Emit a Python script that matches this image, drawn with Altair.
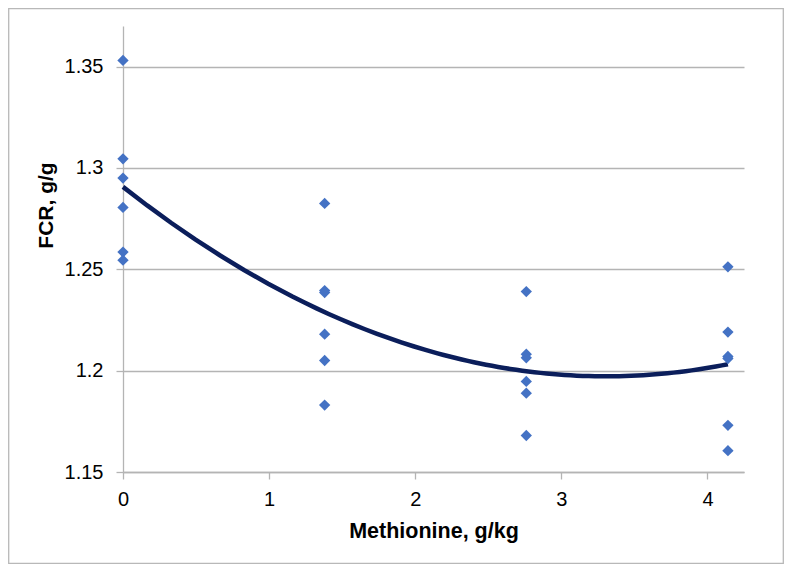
import altair as alt
import pandas as pd

# Data
methionine_levels = [0.0, 1.38, 2.76, 4.14]
fcr_at_0 = [1.353, 1.3045, 1.295, 1.2805, 1.2585, 1.2545]
fcr_at_138 = [1.2825, 1.2395, 1.2385, 1.218, 1.205, 1.183]
fcr_at_276 = [1.239, 1.2081, 1.2063, 1.1947, 1.1889, 1.168]
fcr_at_414 = [1.2512, 1.219, 1.207, 1.206, 1.173, 1.1605]

x_ticks = [0, 1, 2, 3, 4]
y_ticks = [1.15, 1.2, 1.25, 1.3, 1.35]

rows = []
for lvl, vals in zip(methionine_levels, [fcr_at_0, fcr_at_138, fcr_at_276, fcr_at_414]):
    for v in vals:
        rows.append({"Methionine": lvl, "FCR": v})
df = pd.DataFrame(rows)

W, H = 621, 446
PAD = {"left": 115, "top": 18, "right": 40, "bottom": 92}

FONT = "Liberation Sans"
GRID = "#b4b4b4"

x_enc = alt.X(
    "Methionine:Q",
    scale=alt.Scale(domain=[0, 4.25], nice=False, zero=False),
    axis=alt.Axis(
        values=x_ticks,
        format="d",
        grid=False,
        domain=True,
        domainColor=GRID,
        domainWidth=1.3,
        ticks=True,
        tickColor=GRID,
        tickWidth=1.3,
        tickSize=7,
        labelPadding=10,
        labelFlush=False,
        labelFont=FONT,
        labelFontSize=20,
        labelColor="#000000",
        title="Methionine, g/kg",
        titleFont=FONT,
        titleFontSize=21.5,
        titleFontWeight="bold",
        titleColor="#000000",
        titleBaseline="alphabetic",
        titleY=65,
    ),
)

y_enc = alt.Y(
    "FCR:Q",
    scale=alt.Scale(domain=[1.15, 1.37], nice=False, zero=False),
    axis=alt.Axis(
        values=y_ticks,
        format=".3~g",
        grid=True,
        gridColor=GRID,
        gridWidth=1.3,
        domain=True,
        domainColor=GRID,
        domainWidth=1.3,
        ticks=True,
        tickColor=GRID,
        tickWidth=1.3,
        tickSize=7,
        labelPadding=13,
        labelFlush=False,
        labelFont=FONT,
        labelFontSize=20,
        labelColor="#000000",
        title="FCR, g/g",
        titleFont=FONT,
        titleFontSize=21,
        titleFontWeight="bold",
        titleColor="#000000",
        titleAngle=270,
        titleBaseline="alphabetic",
        titleAlign="center",
        titleX=-71,
        titleY=179,
    ),
)

points = alt.Chart(df).mark_point(
    shape="diamond", filled=True, color="#4472C4", size=128, opacity=1
).encode(x=x_enc, y=y_enc)

trend = alt.Chart(df).transform_regression(
    "Methionine", "FCR", method="poly", order=2, extent=[0, 4.14]
).mark_line(color="#0B1E5B", strokeWidth=4.5).encode(
    x="Methionine:Q", y="FCR:Q"
)

total_w = PAD["left"] + W + PAD["right"]
total_h = PAD["top"] + H + PAD["bottom"]
frame = alt.Chart(pd.DataFrame({"k": [0]})).mark_rect(
    fill=None, stroke="#b8b8b8", strokeWidth=1.3, clip=False
).encode(
    x=alt.value(-PAD["left"] + 0.7),
    x2=alt.value(total_w - PAD["left"] - 0.7),
    y=alt.value(-PAD["top"] + 0.7),
    y2=alt.value(total_h - PAD["top"] - 0.7),
)

chart = alt.layer(trend, points, frame).properties(
    width=W,
    height=H,
    padding=PAD,
    autosize=alt.AutoSizeParams(type="none"),
    background="#ffffff",
).configure_view(stroke=None)

chart.save("out.html", embed_options={"renderer": "svg", "actions": False})
